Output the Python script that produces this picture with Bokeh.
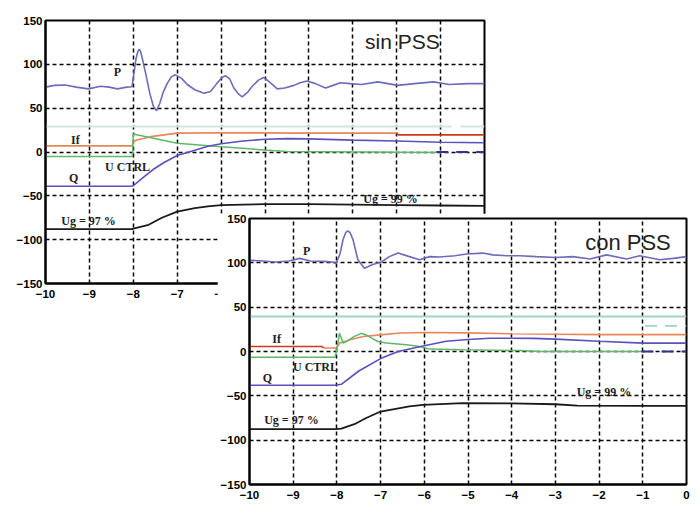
from bokeh.plotting import figure
from bokeh.models import Range1d, FixedTicker, Label
from bokeh.embed import file_html
from bokeh.resources import INLINE

# ---------------- axes ----------------
x_ticks = [-10, -9, -8, -7, -6, -5, -4, -3, -2, -1, 0]
y_ticks = [-150, -100, -50, 0, 50, 100, 150]

# ---------------- panel 1: sin PSS ----------------
p1_P_t = [-10, -9.8, -9.55, -9.3, -9.02, -8.75, -8.55, -8.36, -8.15, -8.03, -7.97, -7.94, -7.9,
          -7.87, -7.84, -7.8, -7.72, -7.62, -7.54, -7.47, -7.4, -7.32, -7.23, -7.13, -7.04, -6.9,
          -6.77, -6.6, -6.39, -6.24, -6.1, -5.98, -5.9, -5.8, -5.71, -5.6, -5.52, -5.4, -5.29,
          -5.15, -5.03, -4.9, -4.72, -4.55, -4.34, -4.2, -4.04, -3.85, -3.62, -3.45, -3.28, -3.05,
          -2.8, -2.43, -2.2, -1.98, -1.6, -1.16, -0.8, -0.39, 0]
p1_P_v = [74, 76, 76.5, 74, 72, 75, 74, 72, 74, 74.5, 95, 106, 114,
          117, 115.5, 108, 90, 66, 52, 47, 55, 68, 78, 86, 88, 84,
          77, 71, 67, 69, 78, 85, 87, 83, 73, 66, 63, 68, 75,
          82, 85, 80, 72, 73, 76, 79, 81, 78, 73, 76, 79, 78,
          77, 80, 78, 76, 78, 80, 77, 78, 78]

p1_If_t = [-10, -8.02, -8.0, -7.9, -7.6, -7.3, -7.0, -6.0, -4.0, -2.0, -1.96, 0]
p1_If_v = [7, 7, 12, 14, 17.5, 19.5, 21.5, 22, 21.5, 21.5, 19.5, 19.5]

p1_U_t = [-10, -8.02, -8.0, -7.95, -7.0, -6.0, -5.0, -4.5, -1.1]
p1_U_v = [-5, -5, 20.5, 20, 10, 6, 2.3, 0.5, -0.5]

p1_Q_t = [-10, -8.05, -8.0, -7.8, -7.55, -7.3, -7.0, -6.6, -6.3, -6.0, -5.5, -5.0, -4.5, -4.0,
          -3.0, -2.0, -1.0, 0]
p1_Q_v = [-39, -39, -38.5, -30, -20, -12, -4, 2, 6.5, 9.5, 12.5, 14.5, 15.3, 15,
          13.5, 12.5, 11.2, 10.5]

p1_Ug_t = [-10, -8.03, -8.0, -7.65, -7.35, -7.0, -6.6, -6.3, -6.0, -5.5, -5.0, -4.0, -3.0,
           -2.0, -1.0, 0]
p1_Ug_v = [-88, -88, -87.5, -83, -75, -68, -64, -62, -60.5, -60, -59.5, -59.5, -60,
           -60.5, -61, -61.5]

p1_ref_t = [-10, -0.75]
p1_ref_v = [29, 29]
p1_ref2_t = [-0.55, 0]
p1_ref2_v = [29, 29]
p1_tail_t = [-1.1, 0]
p1_tail_v = [0, 0]

# ---------------- panel 2: con PSS ----------------
p2_P_t = [-10, -9.7, -9.4, -9.1, -8.85, -8.6, -8.3, -8.1, -8.02, -7.93, -7.86, -7.8, -7.75,
          -7.7, -7.63, -7.52, -7.37, -7.18, -6.98, -6.8, -6.6, -6.34, -6.11, -5.88, -5.65,
          -5.3, -5.04, -4.66, -4.43, -4.11, -3.82, -3.43, -3.0, -2.6, -2.21, -1.83, -1.37,
          -1.07, -0.61, -0.3, 0]
p2_P_v = [103, 102, 101, 102, 105, 102, 101.6, 101, 99, 110, 126, 134, 136,
          134, 126, 103.5, 94, 98, 101, 107, 111, 107, 103.5, 107, 106.5,
          108, 110, 111, 109, 108, 108, 107, 106, 107, 104.3, 109, 104.3,
          108, 103.5, 105, 107]

p2_If_t = [-10, -8.35, -8.3, -8.02, -7.93, -7.7, -7.4, -7.0, -6.55, -6.0, -5.0, -4.0, -3.0,
           -2.0, -1.0, 0]
p2_If_v = [5.6, 5.6, 4, 4, 9.5, 13.2, 17, 18.8, 20.8, 21.4, 21, 20, 19.5, 19, 19, 19]

p2_U_t = [-10, -8.04, -7.99, -7.94, -7.86, -7.78, -7.6, -7.44, -7.3, -7.15, -7.06, -6.87,
          -6.41, -6.11, -5.88, -5.12, -3.82, -3.36, -1.03]
p2_U_v = [-6.5, -6.5, 5, 20.8, 9.5, 11.3, 17, 20.5, 18, 13.5, 11.3, 9.5,
          7.6, 5.6, 2.7, 1.9, 1.1, 0, 0]

p2_Q_t = [-10, -8.05, -7.9, -7.5, -7.0, -6.6, -6.0, -5.5, -5.0, -4.5, -4.0, -3.5, -3.0,
          -2.0, -1.0, 0]
p2_Q_v = [-38, -38, -37, -22, -8, 0, 6.5, 11.5, 13.5, 15, 15, 14.8, 14, 11.5, 9.5, 9.5]

p2_Ug_t = [-10, -8.03, -7.9, -7.6, -7.33, -7.0, -6.34, -6.03, -5.12, -4.0, -3.0, -2.5,
           -1.0, 0]
p2_Ug_v = [-87.6, -87.6, -87, -82, -75, -67.7, -62, -60.2, -58.2, -58.5, -59.5, -61,
           -61.3, -61.3]

p2_ref_t = [-10, 0]
p2_ref_v = [39.5, 39.5]
p2_ref2_t = [-0.95, 0]
p2_ref2_v = [29, 29]
p2_tail_t = [-1.03, 0]
p2_tail_v = [0, 0]

# ---------------- styling ----------------
C_P = "#6c6cb8"
C_Q = "#5a50c0"
C_IF = "#e8875a"
C_IF_RED = "#d03a1a"
C_U = "#5fb86a"
C_UG = "#1a1a1a"
C_NAVY = "#33338f"
TICK_FONT = "Liberation Sans"
LAB_FONT = "Liberation Serif"


def make_panel(fw, fh, bl, bt, br, bb, styles=None):
    kw = {}
    if styles is not None:
        kw["styles"] = styles
    p = figure(frame_width=fw, frame_height=fh,
               x_range=Range1d(-10, 0), y_range=Range1d(-150, 150),
               output_backend="svg", toolbar_location=None,
               min_border_left=bl, min_border_top=bt,
               min_border_right=br, min_border_bottom=bb, **kw)
    p.background_fill_color = "white"
    p.border_fill_color = "white"
    for ax in (p.xaxis[0], p.yaxis[0]):
        ax.major_tick_in = 0
        ax.major_tick_out = 0
        ax.minor_tick_in = 0
        ax.minor_tick_out = 0
        ax.axis_line_width = 2
        ax.axis_line_color = "black"
        ax.major_label_text_font = TICK_FONT
        ax.major_label_text_font_style = "bold"
        ax.major_label_text_font_size = "11.5px"
        ax.major_label_text_color = "black"
    p.xaxis.ticker = FixedTicker(ticks=x_ticks)
    p.yaxis.ticker = FixedTicker(ticks=y_ticks)
    p.xaxis.major_label_standoff = 6
    p.yaxis.major_label_standoff = 3
    p.grid.grid_line_color = "black"
    p.grid.grid_line_dash = "4 3"
    p.grid.grid_line_width = 1.5
    p.outline_line_color = "black"
    p.outline_line_width = 2
    p.outline_line_alpha = 1.0
    return p


def add_label(p, x, y, text, size="12px", font=LAB_FONT, style="bold"):
    p.add_layout(Label(x=x, y=y, text=text, text_align="center", text_baseline="middle",
                       text_font=font, text_font_style=style, text_font_size=size,
                       text_color="#222222"))


# panel 1
p1 = make_panel(439, 263, 45, 20, 10, 25)
p1.line(p1_ref_t, p1_ref_v, line_color="#d5e3e3", line_width=2)
p1.line(p1_ref2_t, p1_ref2_v, line_color="#d5e3e3", line_width=2)
p1.line(p1_If_t[:10], p1_If_v[:10], line_color=C_IF, line_width=1.6)
p1.line(p1_If_t[9:], p1_If_v[9:], line_color=C_IF_RED, line_width=1.6)
p1.line(p1_U_t, p1_U_v, line_color=C_U, line_width=1.5)
p1.line(p1_tail_t, p1_tail_v, line_color=C_NAVY, line_width=2, line_dash="12 8")
p1.line(p1_Q_t, p1_Q_v, line_color=C_Q, line_width=1.6)
p1.line(p1_Ug_t, p1_Ug_v, line_color=C_UG, line_width=1.8)
p1.line(p1_P_t, p1_P_v, line_color=C_P, line_width=1.6)
add_label(p1, -8.36, 91, "P")
add_label(p1, -9.32, 13.7, "If")
add_label(p1, -8.13, -17, "U CTRL")
add_label(p1, -9.36, -29.6, "Q")
add_label(p1, -9.02, -78.7, "Ug = 97 %")
add_label(p1, -2.14, -53.6, "Ug = 99 %")
add_label(p1, -1.87, 126.6, "sin PSS", size="21px", font="Liberation Sans", style="normal")

# panel 2 (overlapping, positioned absolutely)
p2 = make_panel(437, 266, 32, 5, 8, 20,
                styles={"position": "absolute", "left": "217px", "top": "213px"})
p2.line(p2_ref_t, p2_ref_v, line_color="#9fd3c3", line_width=1.8)
p2.line(p2_ref2_t, p2_ref2_v, line_color="#9fd3c3", line_width=1.8, line_dash="12 8")
p2.line(p2_If_t[2:], p2_If_v[2:], line_color=C_IF, line_width=1.6)
p2.line(p2_If_t[:3], p2_If_v[:3], line_color=C_IF_RED, line_width=1.6)
p2.line(p2_U_t, p2_U_v, line_color=C_U, line_width=1.5)
p2.line(p2_tail_t, p2_tail_v, line_color=C_NAVY, line_width=2, line_dash="12 8")
p2.line(p2_Q_t, p2_Q_v, line_color=C_Q, line_width=1.6)
p2.line(p2_Ug_t, p2_Ug_v, line_color=C_UG, line_width=1.8)
p2.line(p2_P_t, p2_P_v, line_color=C_P, line_width=1.6)
add_label(p2, -8.69, 113, "P")
add_label(p2, -9.38, 14.3, "If")
add_label(p2, -8.49, -17.5, "U CTRL")
add_label(p2, -9.59, -29.7, "Q")
add_label(p2, -9.04, -77.1, "Ug = 97 %")
add_label(p2, -1.89, -45.5, "Ug = 99 %")
add_label(p2, -1.34, 122.7, "con PSS", size="22px", font="Liberation Sans", style="normal")

open("out.html", "w").write(file_html([p1, p2], INLINE))
